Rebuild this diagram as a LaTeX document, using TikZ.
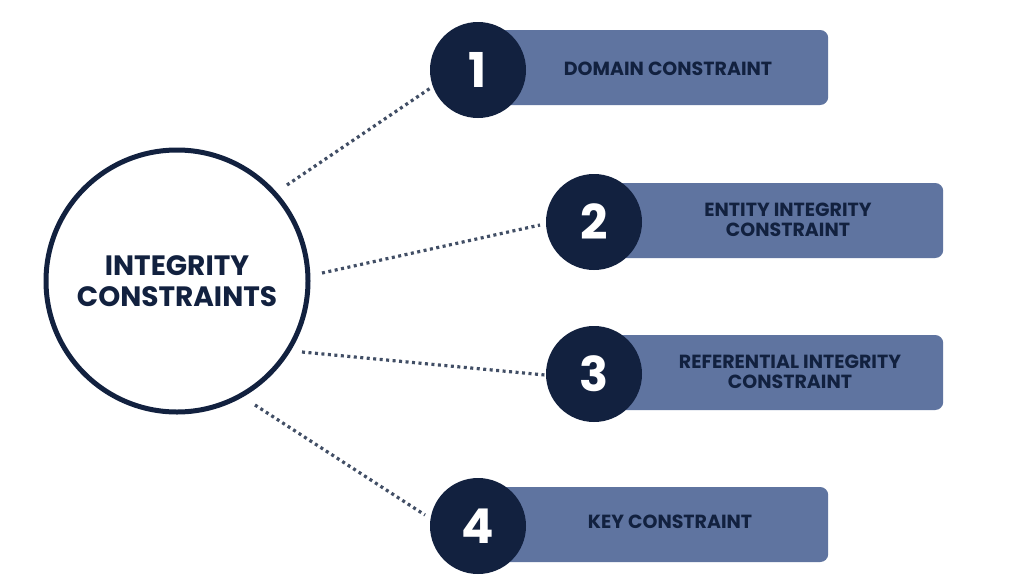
\documentclass[tikz,border=0pt]{standalone}
\usepackage{fontspec}
\setmainfont{Poppins}
\definecolor{navy}{HTML}{12213F}
\definecolor{slate}{HTML}{5F74A0}
\begin{document}
\begin{tikzpicture}[x=1pt,y=-1pt,
  bar/.style={fill=slate,rounded corners=8pt,minimum height=75pt,anchor=west,inner sep=0pt},
  num/.style={circle,fill=navy,minimum size=96pt,inner sep=0pt,text=white,font=\fontsize{48}{48}\selectfont\bfseries},
  lbl/.style={text=navy,font=\fontsize{19}{20}\selectfont\bfseries,align=center},
  dots/.style={navy!80,line width=3.2pt,dash pattern=on 3pt off 3.5pt}]
\useasboundingbox (0,0) rectangle (1024,576);
\fill[white] (0,0) rectangle (1024,576);
\node[bar,minimum width=338pt] (b1) at (490,67.5) {};
\node[bar,minimum width=343pt] (b2) at (600,220.5) {};
\node[bar,minimum width=343pt] (b3) at (600,372.5) {};
\node[bar,minimum width=338pt] (b4) at (490,524.5) {};
\node[lbl] (t1) at (668,69) {DOMAIN CONSTRAINT};
\node[lbl] (t2) at (788,220) {ENTITY INTEGRITY\\CONSTRAINT};
\node[lbl] (t3) at (790,372) {REFERENTIAL INTEGRITY\\CONSTRAINT};
\node[lbl] (t4) at (670,522) {KEY CONSTRAINT};
\node[num] (n1) at (478,70) {1};
\node[num] (n2) at (594,222) {2};
\node[num] (n3) at (594,374) {3};
\node[num] (n4) at (478,526) {4};
\node[circle,draw=navy,line width=5pt,fill=white,minimum size=262pt,inner sep=0pt,
  text=navy,font=\fontsize{28}{31}\selectfont\bfseries,align=center] (c) at (177,281) {INTEGRITY\\CONSTRAINTS};
\coordinate (a1) at (287,185); \coordinate (a2) at (322,273);
\coordinate (a3) at (302,352); \coordinate (a4) at (255,405);
\coordinate (e1) at (432,87); \coordinate (e2) at (540,225);
\coordinate (e3) at (545,375); \coordinate (e4) at (425,515);
\draw[dots] (a1) -- (e1); \draw[dots] (a2) -- (e2);
\draw[dots] (a3) -- (e3); \draw[dots] (a4) -- (e4);
\end{tikzpicture}
\end{document}
